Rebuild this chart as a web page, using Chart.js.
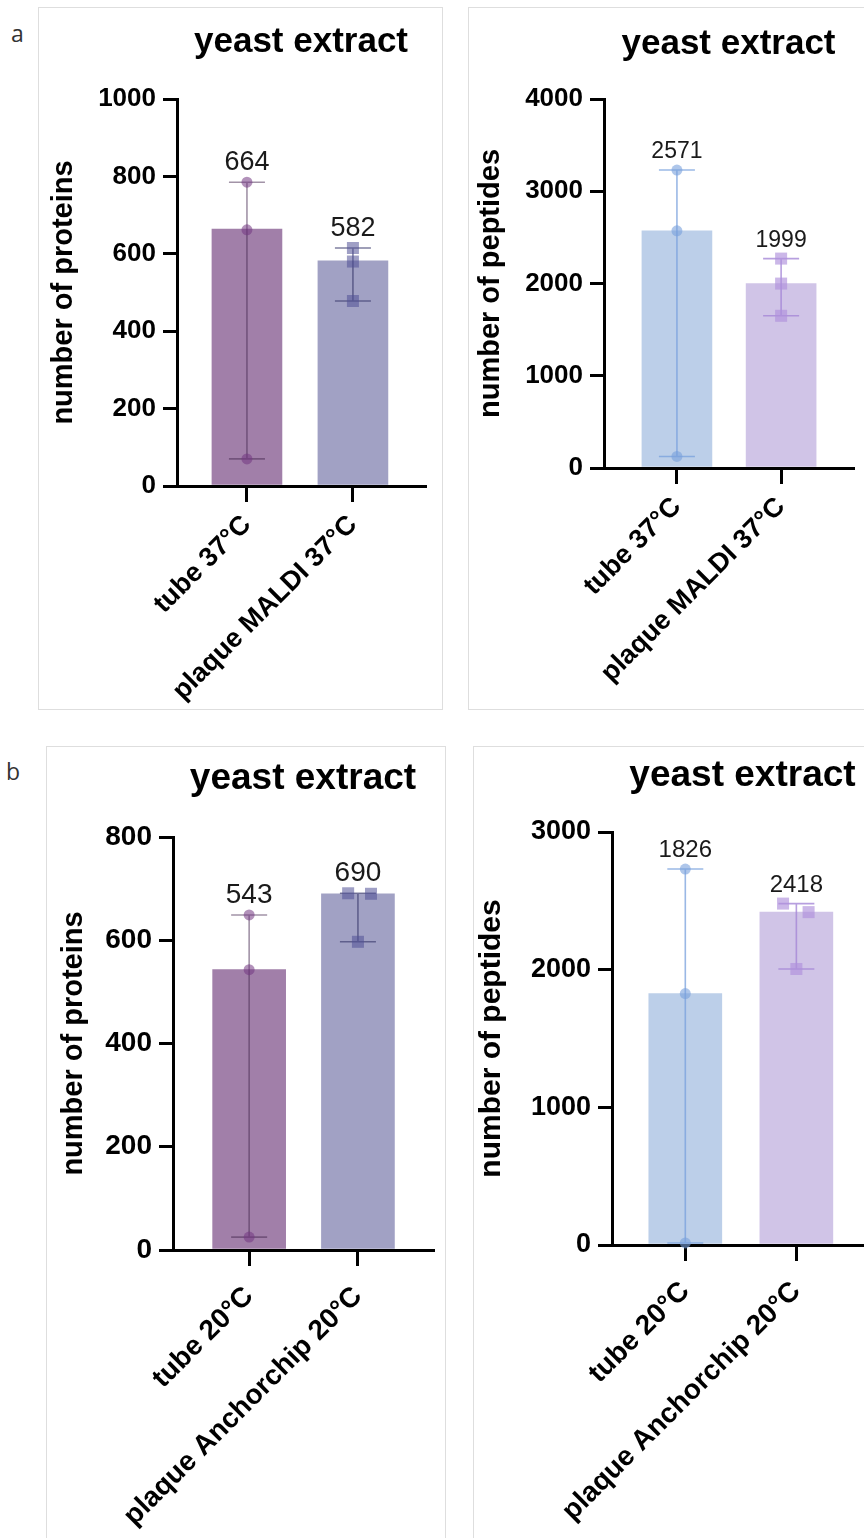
<!DOCTYPE html>
<html>
<head>
<meta charset="utf-8">
<script src="https://cdn.jsdelivr.net/npm/chart.js@4.4.1/dist/chart.umd.min.js"></script>
<style>
  body { margin: 0; width: 864px; height: 1538px; overflow: hidden; background: #fff; position: relative; }
  .panel { position: absolute; border: 1px solid #dedede; box-sizing: border-box; }
  .panel canvas { position: absolute; left: 0; top: 0; }
  .tag { position: absolute; font: 23px 'Open Sans', sans-serif; line-height: 32px; color: #333; }
</style>
</head>
<body>
<div class="tag" style="left:11px;top:17px">a</div>
<div class="tag" style="left:6px;top:755px">b</div>
<div class="panel" style="left:38px;top:7px;width:405px;height:703px"><canvas id="c1"></canvas></div>
<div class="panel" style="left:468px;top:7px;width:420px;height:703px"><canvas id="c2"></canvas></div>
<div class="panel" style="left:46px;top:746px;width:400px;height:800px"><canvas id="c3"></canvas></div>
<div class="panel" style="left:473px;top:746px;width:420px;height:800px"><canvas id="c4"></canvas></div>
<script>
// categories
const catsA = ['tube 37°C', 'plaque MALDI 37°C'];
const catsB = ['tube 20°C', 'plaque Anchorchip 20°C'];

// a: proteins (bar = median, points = replicates)
const protA = [664, 582];
const protA_pts = [[785, 662, 70], [615, 580, 478]];
const protA_jit = [[0, 0, 0], [0, 0, 0]];

// a: peptides
const pepA = [2571, 1999];
const pepA_pts = [[3230, 2571, 125], [2270, 1999, 1650]];
const pepA_jit = [[0, 0, 0], [0, 0, 0]];

// b: proteins
const protB = [543, 690];
const protB_pts = [[649, 543, 25], [691, 690, 597]];
const protB_jit = [[0, 0, 0], [-0.09, 0.12, 0]];

// b: peptides
const pepB = [1826, 2418];
const pepB_pts = [[2731, 1826, 15], [2480, 2418, 2005]];
const pepB_jit = [[0, 0, 0], [-0.12, 0.11, 0]];

// y axis ticks
const protTicksA = [0, 200, 400, 600, 800, 1000];
const pepTicksA = [0, 1000, 2000, 3000, 4000];
const protTicksB = [0, 200, 400, 600, 800];
const pepTicksB = [0, 1000, 2000, 3000];

Chart.defaults.font.family = "'Liberation Sans', Arial, sans-serif";
Chart.defaults.color = '#000';

const purple = {
  bars: ['#a17fa9', '#a1a1c4'],
  pts: ['rgba(115,55,130,0.55)', 'rgba(80,80,150,0.55)'],
  err: ['rgba(70,40,80,0.5)', 'rgba(60,60,110,0.65)']
};
const pastel = {
  bars: ['#bccfe9', '#d0c4e7'],
  pts: ['rgba(120,160,220,0.6)', 'rgba(175,145,220,0.65)'],
  err: ['rgba(120,160,220,0.75)', 'rgba(165,135,215,0.8)']
};

// error bars (range) and median labels, placed through the chart scales
const rangePlugin = {
  id: 'range',
  beforeDatasetDraw(chart, args, o) {
    if (args.index !== 1) return;
    const ctx = chart.ctx, x = chart.scales.x, y = chart.scales.y;
    o.points.forEach((vals, i) => {
      const px = x.getPixelForValue(i);
      const yh = y.getPixelForValue(Math.max(...vals));
      const yl = y.getPixelForValue(Math.min(...vals));
      ctx.save();
      ctx.strokeStyle = o.colors[i];
      ctx.lineWidth = 1.6;
      ctx.beginPath();
      ctx.moveTo(px, yh); ctx.lineTo(px, yl);
      ctx.moveTo(px - o.cap, yh); ctx.lineTo(px + o.cap, yh);
      ctx.moveTo(px - o.cap, yl); ctx.lineTo(px + o.cap, yl);
      ctx.stroke();
      ctx.restore();
    });
  },
  afterDatasetsDraw(chart, args, o) {
    const ctx = chart.ctx, x = chart.scales.x, y = chart.scales.y;
    ctx.save();
    ctx.fillStyle = '#1a1a1a';
    ctx.font = o.labelSize + "px 'Liberation Sans', Arial, sans-serif";
    ctx.textAlign = 'center';
    ctx.textBaseline = 'alphabetic';
    o.medians.forEach((m, i) => {
      ctx.fillText(String(m), x.getPixelForValue(i), y.getPixelForValue(Math.max(...o.points[i])) - 12);
    });
    ctx.restore();
  }
};

function drawPanel(id, cats, medians, points, jitter, yTicks, s) {
  const el = document.getElementById(id);
  const W = s.box.w - 2, H = s.box.h - 2;
  el.width = W; el.height = H;
  const ox = s.box.x + 1, oy = s.box.y + 1;
  const L = s.area.l - ox, T = s.area.t - oy, R = s.area.r - ox, B = s.area.b - oy;

  const tLH = s.titleSize * 1.2;
  const padTop = s.titleY - oy - 0.1 * s.titleSize - tLH / 2;
  const yLH = s.yTitleSize * 1.2;
  const padLeft = s.yTitleX - ox - 0.09 * s.yTitleSize - yLH / 2;

  const pts = [];
  points.forEach((vals, i) => vals.forEach((v, j) => pts.push({ x: i + jitter[i][j], y: v, c: i })));

  new Chart(el, {
    type: 'bar',
    data: {
      datasets: [{
        data: medians.map((v, i) => ({ x: i, y: v })),
        backgroundColor: s.pal.bars,
        borderWidth: 0,
        barThickness: s.barW,
        order: 2
      }, {
        type: 'scatter',
        data: pts,
        pointStyle: c => (c.raw && c.raw.c === 1 ? 'rect' : 'circle'),
        pointRadius: c => (c.raw && c.raw.c === 1 ? 8.5 : 5.5),
        backgroundColor: c => s.pal.pts[c.raw ? c.raw.c : 0],
        borderWidth: 0,
        clip: false,
        order: 1
      }]
    },
    options: {
      responsive: false,
      animation: false,
      events: [],
      layout: { padding: { left: padLeft, top: padTop, right: W - R, bottom: 0 } },
      plugins: {
        legend: { display: false },
        tooltip: { enabled: false },
        title: {
          display: true, text: 'yeast extract', fullSize: false, color: '#000',
          font: { size: s.titleSize, weight: 'bold' },
          padding: { top: 0, bottom: T - padTop - tLH }
        },
        range: { points: points, medians: medians, colors: s.pal.err, cap: 18, labelSize: s.labelSize }
      },
      scales: {
        x: {
          type: 'linear', min: s.xMin, max: s.xMax, offset: false,
          afterBuildTicks: sc => { sc.ticks = cats.map((c, i) => ({ value: i })); },
          afterFit: sc => { sc.height = H - B; },
          grid: { offset: false, drawOnChartArea: false, drawTicks: true, tickLength: 16, lineWidth: 3, color: '#000' },
          border: { display: true, width: 3, color: '#000' },
          ticks: {
            autoSkip: false, minRotation: 45, maxRotation: 45, padding: s.xPad, color: '#000',
            font: { size: s.xTickSize, weight: 'bold' },
            callback: v => cats[v]
          }
        },
        y: {
          min: yTicks[0], max: yTicks[yTicks.length - 1],
          afterBuildTicks: sc => { sc.ticks = yTicks.map(v => ({ value: v })); },
          afterFit: sc => { sc.width = L - padLeft; },
          grid: { drawOnChartArea: false, drawTicks: true, tickLength: 14, lineWidth: 3, color: '#000' },
          border: { display: true, width: 3, color: '#000' },
          ticks: { padding: 7, color: '#000', font: { size: s.tickSize, weight: 'bold' }, callback: v => String(v) },
          title: {
            display: true, text: s.yTitle, color: '#000',
            font: { size: s.yTitleSize, weight: 'bold' }, padding: { top: 0, bottom: 0 }
          }
        }
      }
    },
    plugins: [rangePlugin]
  });
}

drawPanel('c1', catsA, protA, protA_pts, protA_jit, protTicksA, {
  box: { x: 38, y: 7, w: 405, h: 703 }, area: { l: 177, t: 99, r: 425, b: 486 },
  xMin: -0.66, xMax: 1.68, barW: 70, pal: purple,
  titleY: 46, titleSize: 35, yTitleX: 67, yTitleSize: 29, yTitle: 'number of proteins',
  tickSize: 26, xTickSize: 27, xPad: 7, labelSize: 27
});
drawPanel('c2', catsA, pepA, pepA_pts, pepA_jit, pepTicksA, {
  box: { x: 468, y: 7, w: 420, h: 703 }, area: { l: 604, t: 99, r: 853, b: 468 },
  xMin: -0.70, xMax: 1.69, barW: 70, pal: pastel,
  titleY: 48, titleSize: 35, yTitleX: 494, yTitleSize: 29, yTitle: 'number of peptides',
  tickSize: 26, xTickSize: 27, xPad: 7, labelSize: 23
});
drawPanel('c3', catsB, protB, protB_pts, protB_jit, protTicksB, {
  box: { x: 46, y: 746, w: 400, h: 800 }, area: { l: 173, t: 837, r: 433, b: 1250 },
  xMin: -0.70, xMax: 1.69, barW: 73, pal: purple,
  titleY: 782, titleSize: 37, yTitleX: 77, yTitleSize: 29, yTitle: 'number of proteins',
  tickSize: 28, xTickSize: 28, xPad: 14, labelSize: 28
});
drawPanel('c4', catsB, pepB, pepB_pts, pepB_jit, pepTicksB, {
  box: { x: 473, y: 746, w: 420, h: 800 }, area: { l: 612, t: 832, r: 873, b: 1245 },
  xMin: -0.66, xMax: 1.69, barW: 73, pal: pastel,
  titleY: 779, titleSize: 37, yTitleX: 494, yTitleSize: 30, yTitle: 'number of peptides',
  tickSize: 27, xTickSize: 28, xPad: 14, labelSize: 24
});
</script>
</body>
</html>
